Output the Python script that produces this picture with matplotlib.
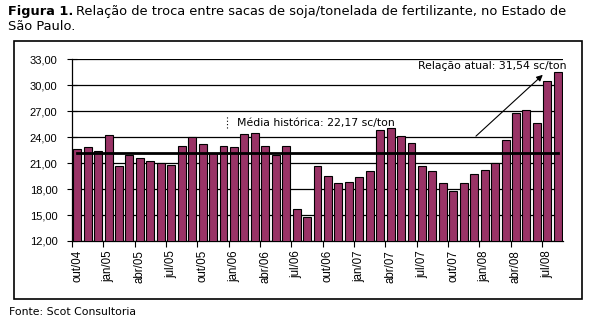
import numpy as np
import matplotlib
matplotlib.use("Agg")
import matplotlib.pyplot as plt
from matplotlib.patches import Rectangle

# monthly exchange ratio, out/04 .. ago/08 (sacas de soja por tonelada)
months = ["out/04", "nov/04", "dez/04",
          "jan/05", "fev/05", "mar/05", "abr/05", "mai/05", "jun/05",
          "jul/05", "ago/05", "set/05", "out/05", "nov/05", "dez/05",
          "jan/06", "fev/06", "mar/06", "abr/06", "mai/06", "jun/06",
          "jul/06", "ago/06", "set/06", "out/06", "nov/06", "dez/06",
          "jan/07", "fev/07", "mar/07", "abr/07", "mai/07", "jun/07",
          "jul/07", "ago/07", "set/07", "out/07", "nov/07", "dez/07",
          "jan/08", "fev/08", "mar/08", "abr/08", "mai/08", "jun/08",
          "jul/08", "ago/08"]
ratio = [22.64, 22.83, 22.40, 24.22, 20.63, 21.90, 21.56, 21.21, 20.98,
         20.75, 22.94, 23.98, 23.18, 22.21, 22.94, 22.83, 24.33, 24.45,
         22.94, 21.90, 22.94, 15.66, 14.74, 20.63, 19.48, 18.67, 18.78,
         19.40, 20.05, 24.83, 25.03, 24.14, 23.29, 20.63, 20.05, 18.67,
         17.74, 18.67, 19.71, 20.17, 20.98, 23.68, 26.76, 27.11, 25.64,
         30.50, 31.54]
media = 22.17
yticks = [12, 15, 18, 21, 24, 27, 30, 33]

W, H = 597, 323
plt.rcParams['font.family'] = ['DejaVu Sans']
fig = plt.figure(figsize=(W / 100, H / 100), dpi=100)

# border around chart area
fig.patches.append(Rectangle((14 / W, 1 - 299 / H), (582 - 14) / W, (299 - 41) / H,
                             transform=fig.transFigure, fill=False,
                             edgecolor='black', linewidth=1.2))

# title: bold prefix, then the rest right after it
t1 = fig.text(8 / W, 1 - 11 / H, "Figura 1.", fontsize=9.3, fontweight='bold', va='center')
fig.canvas.draw()
bb = t1.get_window_extent()
fig.text(bb.x1 / W + 3 / W, 1 - 11 / H,
         "Relação de troca entre sacas de soja/tonelada de fertilizante, no Estado de",
         fontsize=9.4, va='center')
fig.text(8 / W, 1 - 27 / H, "São Paulo.", fontsize=9.4, va='center')
fig.text(9 / W, 1 - 312 / H, "Fonte: Scot Consultoria", fontsize=7.8, va='center')

ax = fig.add_axes([72 / W, 1 - 241 / H, 491 / W, 181.7 / H])
x = np.arange(len(ratio))
ax.bar(x, ratio, width=0.76, color='#993366', edgecolor='black',
       linewidth=0.8, zorder=3)
ax.set_xlim(-0.5, len(ratio) - 0.5)
ax.set_ylim(12, 33)

ax.set_yticks(yticks)
ax.set_yticklabels([f"{v:.2f}".replace('.', ',') for v in yticks],
                   fontsize=8, family='Liberation Sans')
ax.yaxis.grid(True, color='black', linewidth=0.9, zorder=0)
ax.tick_params(axis='y', direction='inout', length=7, width=0.8, pad=7)

ax.set_xticks(x[::3])
ax.set_xticklabels(months[::3], rotation=90, fontsize=8.3, family='Liberation Sans')
ax.set_xticks(np.arange(-0.5, len(ratio) - 1, 3), minor=True)
ax.tick_params(axis='x', which='major', length=0, pad=6.5)
ax.tick_params(axis='x', which='minor', length=4, width=0.8)

for s in ['top', 'right']:
    ax.spines[s].set_visible(False)
for s in ['left', 'bottom']:
    ax.spines[s].set_linewidth(0.9)

# historical mean line
ax.plot([0, len(ratio) - 1], [media, media], color='black', linewidth=2, zorder=4)
ax.plot([14.33, 14.33], [25.06, 26.57], color='black', linewidth=0.8,
        linestyle=(0, (1, 2)), zorder=4)
ax.text(15.29, 25.64, "Média histórica: " + f"{media:.2f}".replace('.', ',') + " sc/ton",
        fontsize=7.85, va='center', ha='left', zorder=5)

ax.annotate("", xy=(44.76, 31.42), xytext=(37.97, 23.9),
            arrowprops=dict(arrowstyle='-|>', color='black', lw=0.8,
                            mutation_scale=9), zorder=5)
ax.text(32.6, 32.2, "Relação atual: " + f"{ratio[-1]:.2f}".replace('.', ',') + " sc/ton",
        fontsize=7.85, va='center', ha='left', zorder=5)

fig.savefig("out.png", dpi=100)
